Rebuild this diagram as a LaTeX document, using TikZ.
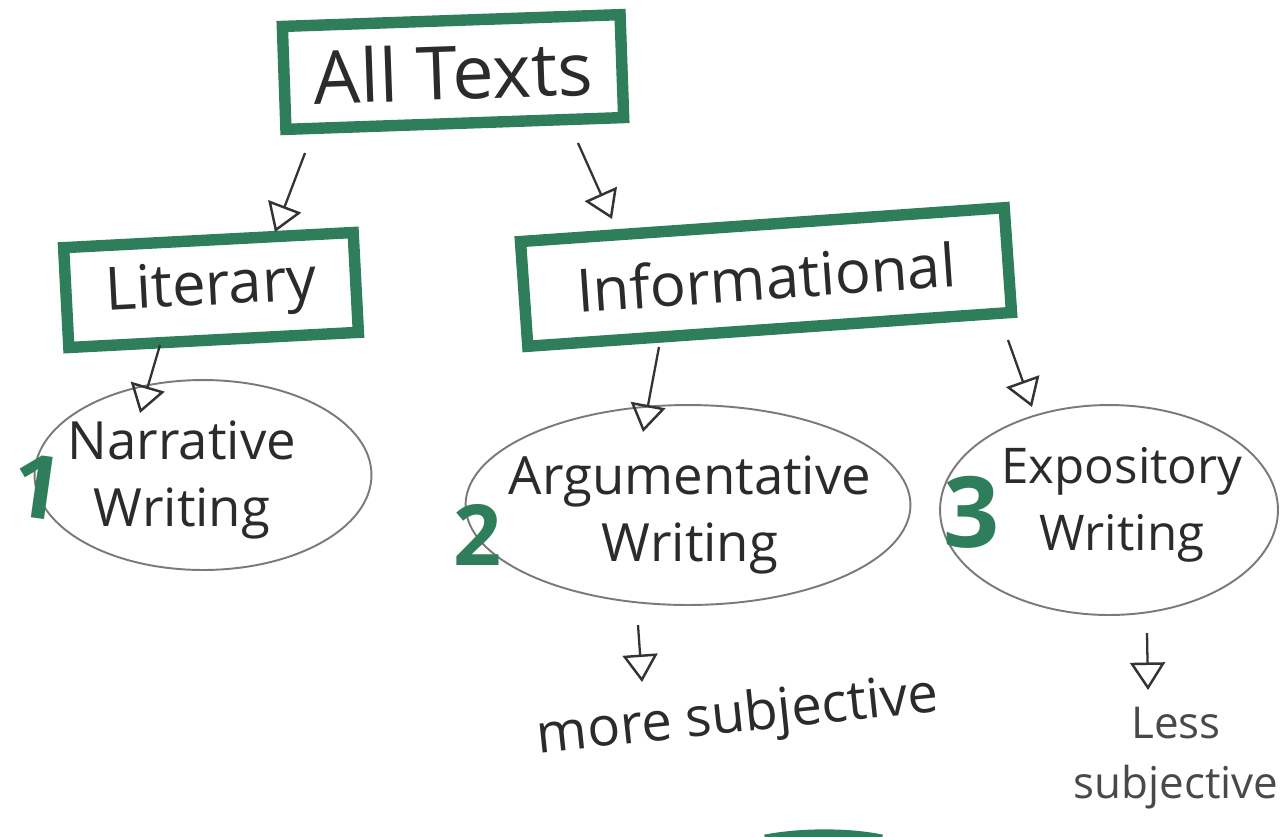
\documentclass[tikz,border=0pt]{standalone}
\usepackage{fontspec}
\setmainfont{Open Sans}
\usetikzlibrary{arrows.meta,calc,shapes.geometric}
\definecolor{boxgreen}{HTML}{2E7D5B}
\definecolor{ovalgray}{HTML}{7A7A7A}
\definecolor{arrowgray}{HTML}{333333}
\definecolor{inkgray}{HTML}{2B2B2B}
\tikzset{
  topicbox/.style={
    rectangle,
    draw=boxgreen,
    line width=6.5pt,
    align=center,
    inner sep=0pt,
    text=inkgray,
    font=\fontsize{34}{40}\selectfont
  },
  writingtype/.style={
    ellipse,
    draw=ovalgray,
    line width=1.1pt,
    inner sep=0pt
  },
  typelabel/.style={
    align=center,
    inner sep=0pt,
    text=inkgray,
    font=\fontsize{30}{38}\selectfont
  },
  tally/.style={
    text=boxgreen,
    inner sep=0pt,
    font=\bfseries\fontsize{56}{56}\selectfont
  },
  flow/.style={
    -{Triangle[open,length=5.5mm,width=7mm,line width=1.4pt]},
    draw=arrowgray,
    line width=1.3pt
  }
}

\begin{document}
\begin{tikzpicture}[x=0.02cm,y=-0.02cm]
  \useasboundingbox (0,0) rectangle (1281,836);

  % Green boxes.
  \node[topicbox,minimum width=6.76cm,minimum height=2.06cm,rotate=2,
    font=\fontsize{42}{48}\selectfont] (texts) at (453,72) {All Texts};
  \node[topicbox,minimum width=5.8cm,minimum height=2.0cm,rotate=3]
    (literary) at (211,290) {Literary};
  \node[topicbox,minimum width=9.7cm,minimum height=2.1cm,rotate=4]
    (info) at (766,277) {Informational};

  % Kinds of writing.
  \node[writingtype,minimum width=6.74cm,minimum height=3.8cm] (narrative) at (203,475) {};
  \node[writingtype,minimum width=8.9cm,minimum height=4.0cm] (argu) at (688,505) {};
  \node[writingtype,minimum width=6.76cm,minimum height=4.2cm] (expo) at (1109,510) {};
  \node[typelabel] (narrativetext) at (182,480) {Narrative\\Writing};
  \node[typelabel] (argutext) at (690,515) {Argumentative\\Writing};
  \node[typelabel,font=\fontsize{28}{38}\selectfont] (expotext) at (1122,505) {Expository\\Writing};

  \node[tally,rotate=-8,font=\bfseries\fontsize{50}{50}\selectfont] (one) at (38,487) {1};
  \node[tally,font=\bfseries\fontsize{48}{48}\selectfont] (two) at (478,535) {2};
  \node[tally] (three) at (972,512) {3};

  % Notes under the ovals.
  \node[typelabel,rotate=6,font=\fontsize{31}{38}\selectfont] (more) at (738,718) {more subjective};
  \node[typelabel,text=ovalgray!60!black,font=\fontsize{25}{34}\selectfont]
    (less) at (1176,758) {Less\\subjective};

  % Arrows.
  \draw[flow] ($(texts.center)+(-148,81)$) -- ($(literary.center)+(64,-58)$);
  \draw[flow] ($(texts.center)+(125,71)$) -- ($(info.center)+(-154,-58)$);
  \draw[flow] ($(literary.center)+(-51,55)$) -- ($(narrative.center)+(-63,-62)$);
  \draw[flow] ($(info.center)+(-107,70)$) -- ($(argu.center)+(-45,-73)$);
  \draw[flow] ($(info.center)+(242,63)$) -- ($(expo.center)+(-77,-103)$);
  \draw[flow] ($(argu.center)+(-50,120)$) -- ($(more.center)+(-96,-36)$);
  \draw[flow] ($(expo.center)+(38,123)$) -- ($(less.center)+(-28,-68)$);

  % Green stroke cut by the lower edge.
  \draw[boxgreen,line width=5pt] (765,839) .. controls (800,832) and (850,832) .. (882,839);
\end{tikzpicture}
\end{document}
